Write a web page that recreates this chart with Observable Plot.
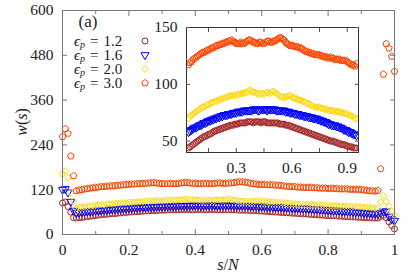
<!DOCTYPE html>
<html><head><meta charset="utf-8">
<script src="https://cdn.jsdelivr.net/npm/d3@7"></script>
<script src="https://cdn.jsdelivr.net/npm/@observablehq/plot@0.6"></script>
<style>
body{margin:0;background:#fff}
#wrap{position:relative;width:415px;height:277px;overflow:hidden}
#wrap svg{position:absolute}
#wrap text{font-family:'Liberation Serif','DejaVu Serif',serif}
</style></head><body><div id="wrap"></div>
<script>
// s runs over monomer index 0..N
const N = 120;
const epsilons = ["1.2", "1.6", "2.0", "3.0"];
const w12 = [84,87,75,60,45,44,45,46,47,48,49,50,51,52,53,54,54,55,56,56,57,58,59,59,60,60,61,61,62,62,63,63,64,64,64,65,65,65,66,66,66,66,66,67,67,67,67,66,67,67,67,67,66,67,67,67,66,66,66,66,66,66,66,66,65,65,65,65,64,64,64,63,63,62,62,61,61,60,60,59,59,58,58,57,57,56,56,55,55,54,54,53,53,52,52,51,51,50,50,50,49,49,48,48,47,47,47,46,46,45,45,45,44,44,44,48,51,45,34,24,15];
const w16 = [120,122,113,88,64,58,59,60,61,62,62,63,64,64,65,66,66,67,68,68,69,69,70,70,71,71,72,72,73,73,73,74,74,74,75,75,75,76,76,76,76,77,77,77,77,77,77,78,78,78,77,77,78,78,78,78,77,78,78,78,78,78,77,77,77,77,77,77,76,76,76,75,75,75,74,74,74,73,73,73,72,72,72,71,71,71,70,70,70,69,69,68,68,67,67,66,65,65,64,64,64,63,63,62,62,61,60,60,59,58,58,57,56,56,55,58,62,62,48,41,37];
const w20 = [162,170,152,112,89,70,72,73,74,75,76,77,78,79,80,80,81,82,82,83,84,84,85,85,86,86,87,87,88,88,89,89,90,90,90,91,90,91,91,92,92,92,93,93,94,95,94,93,93,92,92,91,92,92,91,92,93,93,92,93,94,93,92,91,90,89,89,88,89,89,90,90,89,88,88,87,87,86,86,85,85,84,83,83,82,81,81,80,80,80,80,79,79,78,78,78,77,77,77,77,76,76,76,76,75,75,75,74,74,73,73,72,71,70,70,87,104,88,75,62,52];
const w30 = [262,283,271,210,157,117,119,120,122,123,124,125,126,127,128,128,129,130,130,131,132,132,133,134,134,135,135,136,136,137,137,138,138,139,138,137,136,136,136,137,136,136,137,138,139,139,138,137,137,136,136,137,137,136,136,137,138,138,137,137,138,138,139,140,141,141,140,139,137,136,135,134,134,134,133,133,133,132,132,131,130,129,129,128,128,127,127,126,126,126,126,125,125,124,124,124,123,124,123,123,122,122,122,122,121,121,121,121,120,119,118,117,117,116,118,176,429,511,499,477,437];
const seriesValues = [w12, w16, w20, w30];

const xMajor = [0, 0.2, 0.4, 0.6, 0.8, 1];
const xMinor = [0.1, 0.3, 0.5, 0.7, 0.9];
const yTicks = [0, 120, 240, 360, 480, 600];
const insetXTicks = [0.15, 0.3, 0.45, 0.6, 0.75, 0.9];
const insetXLabels = [0.3, 0.6, 0.9];
const insetYTicks = [50, 100, 150];

const colors = ["#a52a2a", "#0000ff", "#ffd700", "#ff4500"];
const sqrt3 = Math.sqrt(3);
const triangleDown = {draw(ctx, size) {
  const y = -Math.sqrt(size / (sqrt3 * 3));
  ctx.moveTo(0, -y * 2); ctx.lineTo(-sqrt3 * y, y); ctx.lineTo(sqrt3 * y, y); ctx.closePath();
}};
const pentagon = {draw(ctx, size) {
  const r = Math.sqrt(size / 2.3776);
  for (let k = 0; k < 5; ++k) {
    const a = -Math.PI / 2 + k * 2 * Math.PI / 5;
    const px = r * Math.cos(a), py = r * Math.sin(a);
    if (k === 0) ctx.moveTo(px, py); else ctx.lineTo(px, py);
  }
  ctx.closePath();
}};
const symbols = [d3.symbolCircle, triangleDown, d3.symbolDiamond2, pentagon];
const R = 3;

const tables = seriesValues.map(ws => ws.map((w, i) => ({s: i / N, w})));

const font = "'Liberation Serif', 'DejaVu Serif', serif";
const fmt = d => (d === 0 || d === 1) ? String(d) : d.toFixed(1);

const dots = (tbl, k, extra = {}) => Plot.dot(tbl, {x: "s", y: "w", r: R, stroke: colors[k], strokeWidth: 1, fill: "none", symbol: symbols[k], ...extra});

const main = Plot.plot({
  width: 415, height: 277,
  marginLeft: 62, marginRight: 21, marginTop: 10, marginBottom: 43,
  x: {domain: [0, 1]}, y: {domain: [0, 600]},
  style: {fontFamily: font, fontSize: "15.5px", background: "transparent", color: "#222"},
  marks: [
    ...tables.map((t, k) => dots(t, k)),
    Plot.frame({stroke: "#777"}),
    Plot.axisX(xMajor, {anchor: "bottom", tickSize: -5, tickFormat: () => "", stroke: "#777", label: null}),
    Plot.axisX(xMinor, {anchor: "bottom", tickSize: -3, tickFormat: () => "", stroke: "#777", label: null}),
    Plot.axisX(xMajor, {anchor: "top", tickSize: -5, tickFormat: () => "", stroke: "#777", label: null}),
    Plot.axisX(xMinor, {anchor: "top", tickSize: -3, tickFormat: () => "", stroke: "#777", label: null}),
    Plot.axisY(yTicks, {anchor: "left", tickSize: -5, tickFormat: () => "", stroke: "#777", label: null}),
    Plot.axisY(yTicks, {anchor: "right", tickSize: -5, tickFormat: () => "", stroke: "#777", label: null}),
    Plot.axisX(xMajor, {anchor: "bottom", tickSize: 0, tickPadding: 9, tickFormat: fmt, label: null}),
    Plot.axisY(yTicks, {anchor: "left", tickSize: 0, tickPadding: 9, label: null})
  ]
});

const insetTables = tables.map(t => t.filter(d => d.s >= 0.04 && d.s <= 0.955));
const inset = Plot.plot({
  width: 225, height: 165,
  marginLeft: 46, marginRight: 7, marginTop: 10, marginBottom: 30,
  x: {domain: [0.031, 0.961]}, y: {domain: [40, 150]},
  style: {fontFamily: font, fontSize: "15.5px", background: "transparent", color: "#222"},
  marks: [
    ...insetTables.map((t, k) => dots(t, k, {clip: true})),
    Plot.frame({stroke: "#333"}),
    Plot.axisX(insetXTicks, {anchor: "bottom", tickSize: -4, tickFormat: () => "", stroke: "#555", label: null}),
    Plot.axisX(insetXTicks, {anchor: "top", tickSize: -4, tickFormat: () => "", stroke: "#555", label: null}),
    Plot.axisY(insetYTicks, {anchor: "left", tickSize: -4, tickFormat: () => "", stroke: "#555", label: null}),
    Plot.axisY(insetYTicks, {anchor: "right", tickSize: -4, tickFormat: () => "", stroke: "#555", label: null}),
    Plot.axisX(insetXLabels, {anchor: "bottom", tickSize: 0, tickPadding: 9, tickFormat: d => d.toFixed(1), label: null}),
    Plot.axisY(insetYTicks, {anchor: "left", tickSize: 0, tickPadding: 9, label: null})
  ]
});

const wrap = document.getElementById("wrap");
main.style.left = "0px"; main.style.top = "0px";
inset.style.left = "140px"; inset.style.top = "17px";
wrap.appendChild(main);
wrap.appendChild(inset);

// annotations, legend, axis titles on the main svg
const svg = d3.select(main);
const g = svg.append("g").attr("text-anchor", "start").attr("fill", "#222");
g.append("text").attr("x", 88).attr("y", 23).attr("text-anchor", "middle").attr("dominant-baseline", "middle").attr("font-size", 17).text("(a)");
epsilons.forEach((e, k) => {
  const y = 41 + k * 14;
  const t = g.append("text").attr("x", 74).attr("y", y + 4.5).attr("font-size", 15);
  t.append("tspan").attr("font-style", "italic").text("ϵ");
  t.append("tspan").attr("font-style", "italic").attr("font-size", 10).attr("dy", 2.5).text("p");
  t.append("tspan").attr("dy", -2.5).attr("dx", 5).text("=");
  t.append("tspan").attr("dx", 5).text(e);
  g.append("path").attr("transform", `translate(145,${y})`)
    .attr("d", d3.symbol(symbols[k], R * R * Math.PI)())
    .attr("fill", "none").attr("stroke", colors[k]).attr("stroke-width", 1);
});
const yl = g.append("text").attr("transform", "translate(27,122) rotate(-90)").attr("text-anchor", "middle").attr("font-size", 16);
yl.append("tspan").attr("font-style", "italic").text("w");
yl.append("tspan").text("(");
yl.append("tspan").attr("font-style", "italic").text("s");
yl.append("tspan").text(")");
const xl = g.append("text").attr("x", 228).attr("y", 270).attr("text-anchor", "middle").attr("font-size", 16);
xl.append("tspan").attr("font-style", "italic").text("s");
xl.append("tspan").text("/");
xl.append("tspan").attr("font-style", "italic").text("N");
</script></body></html>
